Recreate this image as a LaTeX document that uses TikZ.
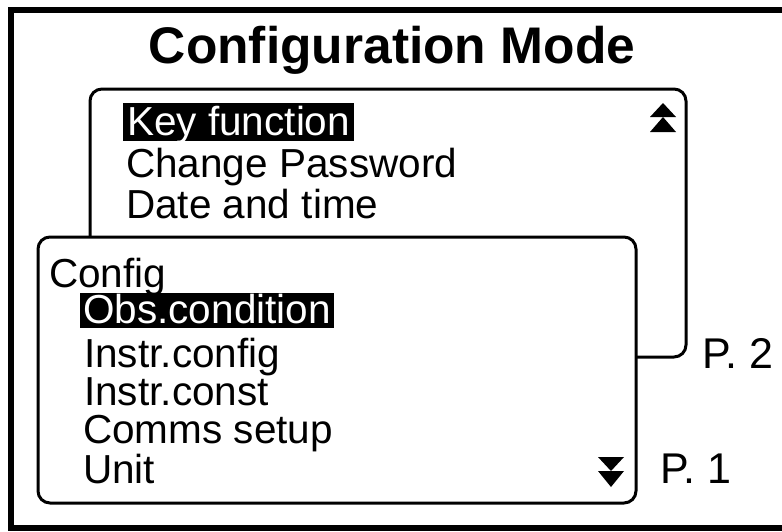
\documentclass[tikz,border=0pt]{standalone}
\usepackage{fontspec}
\setmainfont{Liberation Sans}
\begin{document}
\begin{tikzpicture}[x=1pt,y=-1pt,
  panel/.style={draw=black,line width=3pt,rounded corners=12pt,fill=white,inner sep=0pt},
  item/.style={anchor=base west,inner sep=0pt,font=\fontsize{40.5}{40}\selectfont},
  hilite/.style={anchor=base west,fill=black,text=white,inner xsep=4pt,inner ysep=0pt,
     text height=32pt,text depth=6pt,font=\fontsize{40.5}{40}\selectfont},
  plabel/.style={anchor=base west,inner sep=0pt,font=\fontsize{43}{43}\selectfont},
  tri/.style={fill=black,draw=none}]
\useasboundingbox (0,0) rectangle (782,531);
\begin{scope}
\clip (0,0) rectangle (782,531);
\draw[line width=6pt] (11,10) rectangle (800,528);
\end{scope}
\node[anchor=base,inner sep=0pt,font=\bfseries\fontsize{51.5}{51}\selectfont] (title) at (392,63) {Configuration Mode};
% back panel (page 2)
\node[panel,minimum width=596pt,minimum height=268pt] (back) at (388,223) {};
% front panel (page 1)
\node[panel,minimum width=598pt,minimum height=266pt] (front) at (337,370) {};
% back panel texts
\node[hilite] (k1) at (123,135) {Key function};
\node[item] (k2) at (126,177) {Change Password};
\node[item] (k3) at (126,218) {Date and time};
% up arrow
\fill[tri] (650,117) -- (663,103) -- (676,117) -- cycle;
\fill[tri] (650,132) -- (663,117) -- (676,132) -- cycle;
% front panel texts
\node[item] (f0) at (49,287) {Config};
\node[hilite,inner xsep=3pt,text height=30pt,text depth=5pt] (f1) at (80,323) {Obs.condition};
\node[item] (f2) at (84,367) {Instr.config};
\node[item] (f3) at (84,405) {Instr.const};
\node[item] (f4) at (83,443) {Comms setup};
\node[item] (f5) at (83,483) {Unit};
% down arrow
\fill[tri] (598,457) -- (624,457) -- (611,471) -- cycle;
\fill[tri] (598,471) -- (624,471) -- (611,487) -- cycle;
% page labels
\node[plabel] (p2) at (702,368) {P. 2};
\node[plabel] (p1) at (660,483) {P. 1};
\end{tikzpicture}
\end{document}
